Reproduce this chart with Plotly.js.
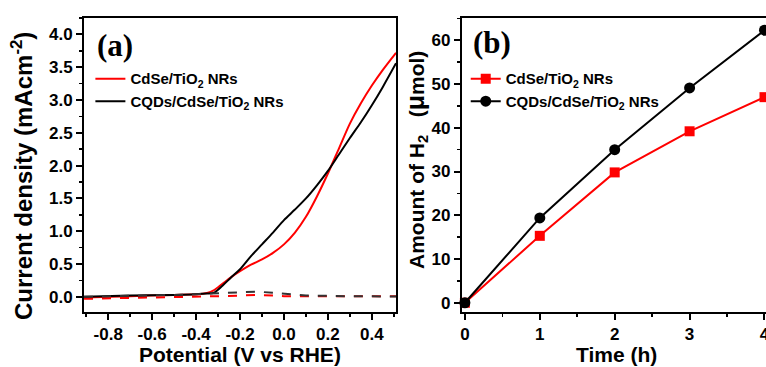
<!DOCTYPE html>
<html><head><meta charset="utf-8">
<script src="https://cdn.plot.ly/plotly-3.0.1.min.js"></script>
<style>html,body{margin:0;padding:0;background:#fff}#chart{width:766px;height:367px}</style>
</head><body><div id="chart"></div>
<script>
// Panel (a): LSV curves
const potRedLight = [-0.91, -0.7, -0.5, -0.4, -0.35, -0.32, -0.28, -0.24, -0.2, -0.15, -0.1, -0.05, 0.0, 0.05, 0.1, 0.15, 0.2, 0.25, 0.3, 0.35, 0.4, 0.45, 0.51];
const jRedLight   = [-0.01, 0.01, 0.03, 0.04, 0.06, 0.1, 0.2, 0.3, 0.39, 0.49, 0.57, 0.67, 0.8, 0.98, 1.22, 1.53, 1.88, 2.26, 2.64, 2.95, 3.22, 3.46, 3.72];
const potBlkLight = [-0.91, -0.7, -0.5, -0.4, -0.35, -0.32, -0.28, -0.24, -0.2, -0.15, -0.1, -0.05, 0.0, 0.05, 0.1, 0.15, 0.2, 0.25, 0.3, 0.35, 0.4, 0.45, 0.51];
const jBlkLight   = [0.0, 0.02, 0.03, 0.04, 0.05, 0.06, 0.17, 0.3, 0.42, 0.62, 0.8, 0.98, 1.17, 1.33, 1.5, 1.7, 1.92, 2.17, 2.42, 2.66, 2.92, 3.2, 3.56];
const potDark     = [-0.91, -0.7, -0.5, -0.4, -0.3, -0.2, -0.12, -0.05, 0.0, 0.1, 0.3, 0.51];
const jRedDark    = [-0.03, -0.02, -0.01, 0.0, 0.01, 0.02, 0.03, 0.02, 0.01, 0.01, 0.01, 0.01];
const jBlkDark    = [0.0, 0.01, 0.03, 0.04, 0.06, 0.07, 0.08, 0.06, 0.05, 0.02, 0.01, 0.005];
// Panel (b): H2 evolution
const timeH = [0, 1, 2, 3, 4];
const h2Red = [0, 15.3, 29.8, 39.2, 47.0];
const h2Blk = [0, 19.4, 35.0, 49.1, 62.3];
const nameRed = 'CdSe/TiO<sub>2</sub> NRs';
const nameBlk = 'CQDs/CdSe/TiO<sub>2</sub> NRs';

const RED = '#ff0000', BLK = '#000000';
const FONT = 'Arial, "Liberation Sans", sans-serif';

const traces = [
  {x: potRedLight, y: jRedLight, mode:'lines', line:{color:RED, width:2, shape:'spline', smoothing:0.8}, name:nameRed, xaxis:'x', yaxis:'y', legend:'legend'},
  {x: potBlkLight, y: jBlkLight, mode:'lines', line:{color:BLK, width:2, shape:'spline', smoothing:0.8}, name:nameBlk, xaxis:'x', yaxis:'y', legend:'legend'},
  {x: potDark, y: jRedDark, mode:'lines', line:{color:RED, width:2, dash:'dash'}, showlegend:false, xaxis:'x', yaxis:'y'},
  {x: potDark, y: jBlkDark, mode:'lines', line:{color:'#333333', width:2, dash:'dash'}, showlegend:false, xaxis:'x', yaxis:'y'},
  {x: timeH, y: h2Red, mode:'lines+markers', line:{color:RED, width:2}, marker:{symbol:'square', size:10, color:RED}, name:nameRed, xaxis:'x2', yaxis:'y2', legend:'legend2', cliponaxis:false},
  {x: timeH, y: h2Blk, mode:'lines+markers', line:{color:BLK, width:2}, marker:{symbol:'circle', size:11, color:BLK}, name:nameBlk, xaxis:'x2', yaxis:'y2', legend:'legend2', cliponaxis:false}
];

const tickfont = {family:FONT, size:17, color:'#000', weight:'bold'};
const axBase = {showgrid:false, zeroline:false, showline:true, linecolor:'#000', linewidth:2, ticks:'outside', ticklen:6, tickwidth:2, tickcolor:'#000', tickfont:tickfont, mirror:true, ticklabeloverflow:'allow'};
const legFont = {family:FONT, size:15, color:'#000', weight:'bold'};
const titleFont = {family:FONT, size:21, color:'#000', weight:'bold'};
const NB = '\u00A0';

const layout = {
  width:766, height:367, margin:{l:0, r:0, t:0, b:0},
  paper_bgcolor:'#fff', plot_bgcolor:'#fff',
  xaxis: Object.assign({}, axBase, {domain:[0.1097, 0.517], range:[-0.91, 0.51], tickvals:[-0.8,-0.6,-0.4,-0.2,0.0,0.2,0.4], ticktext:['-0.8','-0.6','-0.4','-0.2','0.0','0.2','0.4'], minor:{dtick:0.1, ticks:'outside', ticklen:3, tickwidth:1.5, tickcolor:'#000'}, anchor:'y'}),
  yaxis: Object.assign({}, axBase, {domain:[0.150, 0.951], range:[-0.23, 4.25], dtick:0.5, tickformat:'.1f', minor:{dtick:0.25, ticks:'outside', ticklen:3, tickwidth:1.5, tickcolor:'#000'}, anchor:'x'}),
  xaxis2: Object.assign({}, axBase, {domain:[0.603, 1.0], range:[-0.04, 4.02], tickvals:[0,1,2,3,4], ticktext:['0','1','2','3','4'], minor:{dtick:0.5, ticks:'outside', ticklen:3, tickwidth:1.5, tickcolor:'#000'}, anchor:'y2'}),
  yaxis2: Object.assign({}, axBase, {domain:[0.150, 0.951], range:[-2.1, 65.1], dtick:10, mirror:false, minor:{dtick:5, ticks:'outside', ticklen:3, tickwidth:1.5, tickcolor:'#000'}, anchor:'x2'}),
  legend: {x:0.118, y:0.83, xanchor:'left', yanchor:'top', bgcolor:'rgba(0,0,0,0)', font:legFont, itemwidth:30, tracegroupgap:0},
  legend2: {x:0.608, y:0.83, xanchor:'left', yanchor:'top', bgcolor:'rgba(0,0,0,0)', font:legFont, itemwidth:30, tracegroupgap:0},
  annotations: [
    {text:'(a)', xref:'paper', yref:'paper', x:95/766, y:1-45/367, xanchor:'left', yanchor:'middle', showarrow:false, font:{family:'"Times New Roman", "Liberation Serif", serif', size:31, color:'#000', weight:'bold'}},
    {text:'(b)', xref:'paper', yref:'paper', x:471/766, y:1-43/367, xanchor:'left', yanchor:'middle', showarrow:false, font:{family:'"Times New Roman", "Liberation Serif", serif', size:31, color:'#000', weight:'bold'}},
    {text:'Current density (mAcm<sup>-2</sup>)', xref:'paper', yref:'paper', x:22/766, y:1-176/367, textangle:-90, showarrow:false, xanchor:'center', yanchor:'middle', font:{family:FONT, size:24, color:'#000', weight:'bold'}},
    {text:'Potential (V vs RHE)', xref:'paper', yref:'paper', x:240/766, y:0, showarrow:false, xanchor:'center', yanchor:'bottom', yshift:-1, font:titleFont},
    {text:'Amount of H<sub>2</sub>' + NB + NB + NB + '(<span style="font-size:25px">μ</span>mol)', xref:'paper', yref:'paper', x:416/766, y:1-160/367, textangle:-90, showarrow:false, xanchor:'center', yanchor:'middle', font:titleFont},
    {text:'Time (h)', xref:'paper', yref:'paper', x:616/766, y:0, showarrow:false, xanchor:'center', yanchor:'bottom', yshift:-1, font:titleFont}
  ]
};

Plotly.newPlot('chart', traces, layout, {displayModeBar:false, staticPlot:true});
</script></body></html>
